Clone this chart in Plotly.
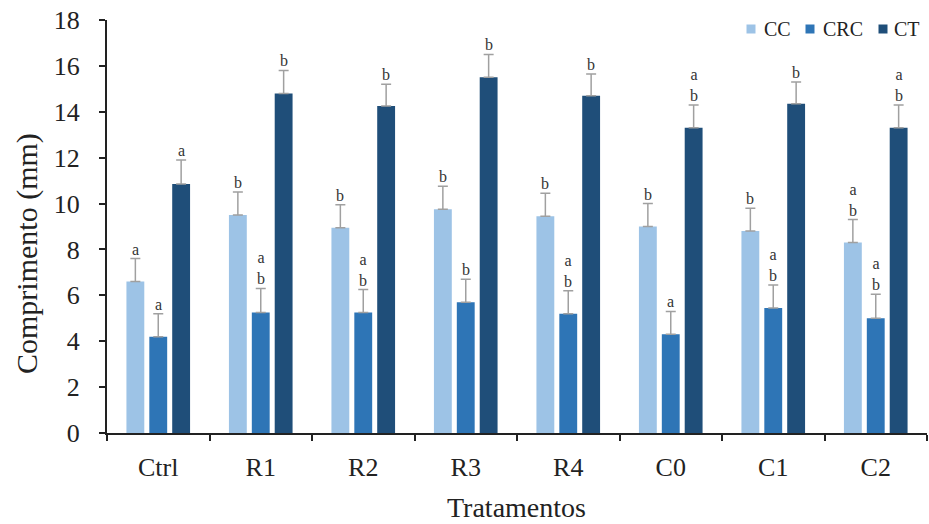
import plotly.graph_objects as go

categories = ["Ctrl", "R1", "R2", "R3", "R4", "C0", "C1", "C2"]
series_names = ["CC", "CRC", "CT"]
cc_values = [6.6, 9.5, 8.95, 9.75, 9.45, 9.0, 8.8, 8.3]
crc_values = [4.2, 5.25, 5.25, 5.7, 5.2, 4.3, 5.45, 5.0]
ct_values = [10.85, 14.8, 14.25, 15.5, 14.7, 13.3, 14.35, 13.3]
cc_err = [1.0, 1.0, 1.0, 1.0, 1.0, 1.0, 1.0, 1.0]
crc_err = [1.0, 1.05, 1.0, 1.0, 1.0, 1.0, 1.0, 1.05]
ct_err = [1.05, 1.0, 0.95, 1.0, 0.95, 1.0, 0.95, 1.0]
cc_letters = ["a", "b", "b", "b", "b", "b", "b", "a<br>b"]
crc_letters = ["a", "a<br>b", "a<br>b", "b", "a<br>b", "a", "a<br>b", "a<br>b"]
ct_letters = ["a", "b", "b", "b", "b", "a<br>b", "b", "a<br>b"]

colors = ["#9DC3E6", "#2E75B6", "#1F4E79"]
values = [cc_values, crc_values, ct_values]
errors = [cc_err, crc_err, ct_err]
letters = [cc_letters, crc_letters, ct_letters]

FONT = "Liberation Serif"
W, H = 929, 524
ML, MR, MT, MB = 107, 2, 20, 91
BARGAP = 0.33
plot_w = W - ML - MR
plot_h = H - MT - MB


def px_x(p):
    return (p - ML) / plot_w


def px_y(p):
    return (H - MB - p) / plot_h


fig = go.Figure()
for name, vals, errs, col in zip(series_names, values, errors, colors):
    fig.add_trace(go.Bar(
        x=categories, y=vals, name=name, marker=dict(color=col, line=dict(width=0)),
        showlegend=False,
        error_y=dict(type="data", array=errs, arrayminus=[0] * len(errs), symmetric=False,
                     color="#a0a0a0", thickness=1.5, width=5),
    ))

slot = plot_w / len(categories) * (1 - BARGAP) / 3
for i, (vals, errs, lets) in enumerate(zip(values, errors, letters)):
    for c, v, e, t in zip(categories, vals, errs, lets):
        fig.add_annotation(x=c, y=v + e, text=t, showarrow=False, xref="x", yref="y",
                           xshift=(i - 1) * slot, yshift=-1, yanchor="bottom",
                           font=dict(family=FONT, size=16, color="#333333"))

# manual legend
sq_centers = [751, 810, 883]
txt_left = [762, 821, 892]
leg_y = 29
for name, col, sx, tx in zip(series_names, colors, sq_centers, txt_left):
    fig.add_shape(type="rect", xref="paper", yref="paper",
                  x0=px_x(sx - 4.5), x1=px_x(sx + 4.5), y0=px_y(leg_y + 4.5), y1=px_y(leg_y - 4.5),
                  fillcolor=col, line=dict(width=0))
    fig.add_annotation(x=px_x(tx), y=px_y(leg_y), xref="paper", yref="paper", text=name,
                       showarrow=False, xanchor="left", yanchor="middle",
                       font=dict(family=FONT, size=20, color="#222222"))

# axis titles
fig.add_annotation(x=px_x(27), y=px_y(254), xref="paper", yref="paper", text="Comprimento (mm)",
                   showarrow=False, textangle=-90, xanchor="center", yanchor="middle",
                   font=dict(family=FONT, size=30, color="#222222"))
fig.add_annotation(x=px_x(516), y=px_y(508), xref="paper", yref="paper", text="Tratamentos",
                   showarrow=False, xanchor="center", yanchor="middle",
                   font=dict(family=FONT, size=28, color="#222222"))

fig.update_layout(
    width=W, height=H,
    margin=dict(l=ML, r=MR, t=MT, b=MB, autoexpand=False),
    paper_bgcolor="white", plot_bgcolor="white",
    barmode="group", bargap=BARGAP, bargroupgap=0.22,
    font=dict(family=FONT, color="#222222"),
    showlegend=False,
    xaxis=dict(showline=True, linecolor="#222222", linewidth=2, automargin=False,
               ticks="outside", tickson="boundaries", ticklen=6, tickcolor="#222222", tickwidth=1.5,
               tickfont=dict(family=FONT, size=26), ticklabelstandoff=10),
    yaxis=dict(range=[0, 18], dtick=2, showgrid=False, zeroline=False, automargin=False,
               showline=True, linecolor="#222222", linewidth=2,
               ticks="outside", ticklen=6, tickcolor="#222222", tickwidth=1.5,
               tickfont=dict(family=FONT, size=26), ticklabelstandoff=14),
)

fig.write_html("out.html", config={"displayModeBar": False},
               post_script="document.body.style.margin='0px';document.body.style.overflow='hidden';")
